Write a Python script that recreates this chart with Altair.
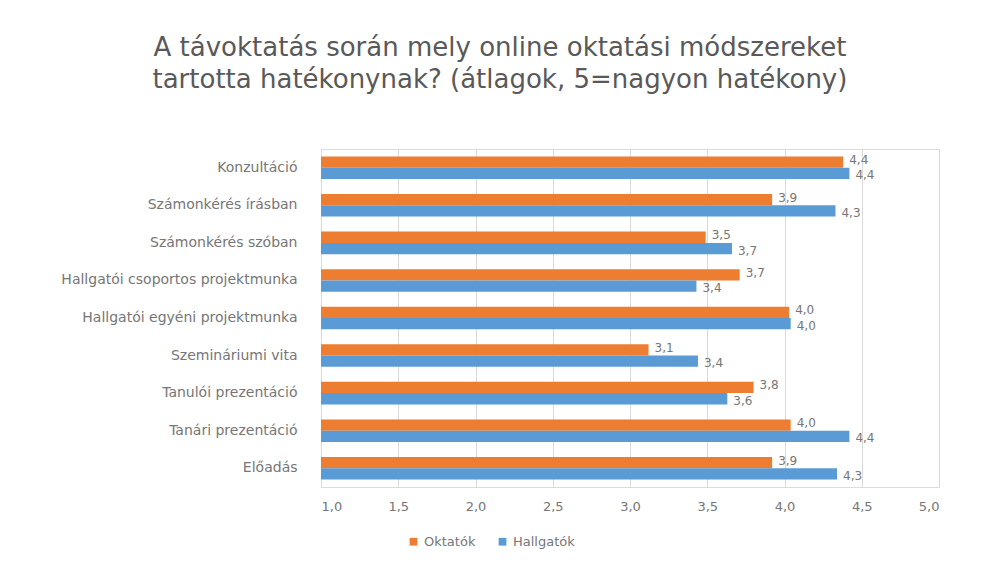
import altair as alt
import pandas as pd

categories = [
    "Konzultáció",
    "Számonkérés írásban",
    "Számonkérés szóban",
    "Hallgatói csoportos projektmunka",
    "Hallgatói egyéni projektmunka",
    "Szemináriumi vita",
    "Tanulói prezentáció",
    "Tanári prezentáció",
    "Előadás",
]
oktatok = [4.38, 3.92, 3.49, 3.71, 4.03, 3.12, 3.80, 4.04, 3.92]
hallgatok = [4.42, 4.33, 3.66, 3.43, 4.04, 3.44, 3.63, 4.42, 4.34]
series = ["Oktatók", "Hallgatók"]
colors = ["#ED7D31", "#5B9BD5"]
x_ticks = [1.0, 1.5, 2.0, 2.5, 3.0, 3.5, 4.0, 4.5, 5.0]

rows = []
for c, o, h in zip(categories, oktatok, hallgatok):
    rows.append({"cat": c, "series": series[0], "value": o})
    rows.append({"cat": c, "series": series[1], "value": h})
df = pd.DataFrame(rows)

FONT = "DejaVu Sans"
GREY = "#595959"
LGREY = "#767676"

base = alt.Chart(df).encode(
    y=alt.Y("cat:N", sort=categories, title=None,
            scale=alt.Scale(paddingInner=0.4, paddingOuter=0.2),
            axis=alt.Axis(labelFont=FONT, labelFontSize=14, labelColor=LGREY,
                          labelPadding=24, ticks=False, domain=False, labelLimit=400)),
    yOffset=alt.YOffset("series:N", sort=series, scale=alt.Scale(paddingInner=0)),
)

bars = base.mark_bar(clip=True).encode(
    x=alt.X("value:Q", title=None,
            scale=alt.Scale(domain=[1.0, 5.0], nice=False, zero=False),
            axis=alt.Axis(values=x_ticks, labelExpr="replace(format(datum.value, '.1f'), '.', ',')",
                          labelFont=FONT, labelFontSize=13, labelColor=LGREY,
                          ticks=False, domain=False, grid=True, gridColor="#d9d9d9",
                          labelPadding=13)),
    color=alt.Color("series:N", sort=series,
                    scale=alt.Scale(domain=series, range=colors),
                    legend=alt.Legend(title=None, orient="none", direction="horizontal",
                                      legendX=86, legendY=386,
                                      symbolType="square", symbolSize=60,
                                      labelFont=FONT, labelFontSize=13, labelColor=LGREY,
                                      columnPadding=20, symbolStrokeWidth=0)),
)

label_calc = "replace(format(datum.value, '.1f'), '.', ',')"

labels_o = base.mark_text(align="left", dx=6, dy=-2, font=FONT, fontSize=12, color=LGREY).encode(
    x=alt.X("value:Q"),
    text=alt.Text("label:N"),
).transform_filter(alt.datum.series == series[0]).transform_calculate(label=label_calc)

labels_h = base.mark_text(align="left", dx=6, dy=2, font=FONT, fontSize=12, color=LGREY).encode(
    x=alt.X("value:Q"),
    text=alt.Text("label:N"),
).transform_filter(alt.datum.series == series[1]).transform_calculate(label=label_calc)

chart = alt.layer(bars, labels_o, labels_h).properties(
    width=618,
    height=338,
    title=alt.TitleParams(
        ["A távoktatás során mely online oktatási módszereket",
         "tartotta hatékonynak? (átlagok, 5=nagyon hatékony)"],
        font=FONT, fontSize=26, fontWeight="normal", color=GREY,
        anchor="middle", frame="bounds", offset=56, lineHeight=32,
    ),
    padding={"left": 52, "top": 27, "right": 10, "bottom": 5},
).configure_view(stroke=None).configure(background="white")

chart.save("out.html", embed_options={"renderer": "svg", "actions": False})
